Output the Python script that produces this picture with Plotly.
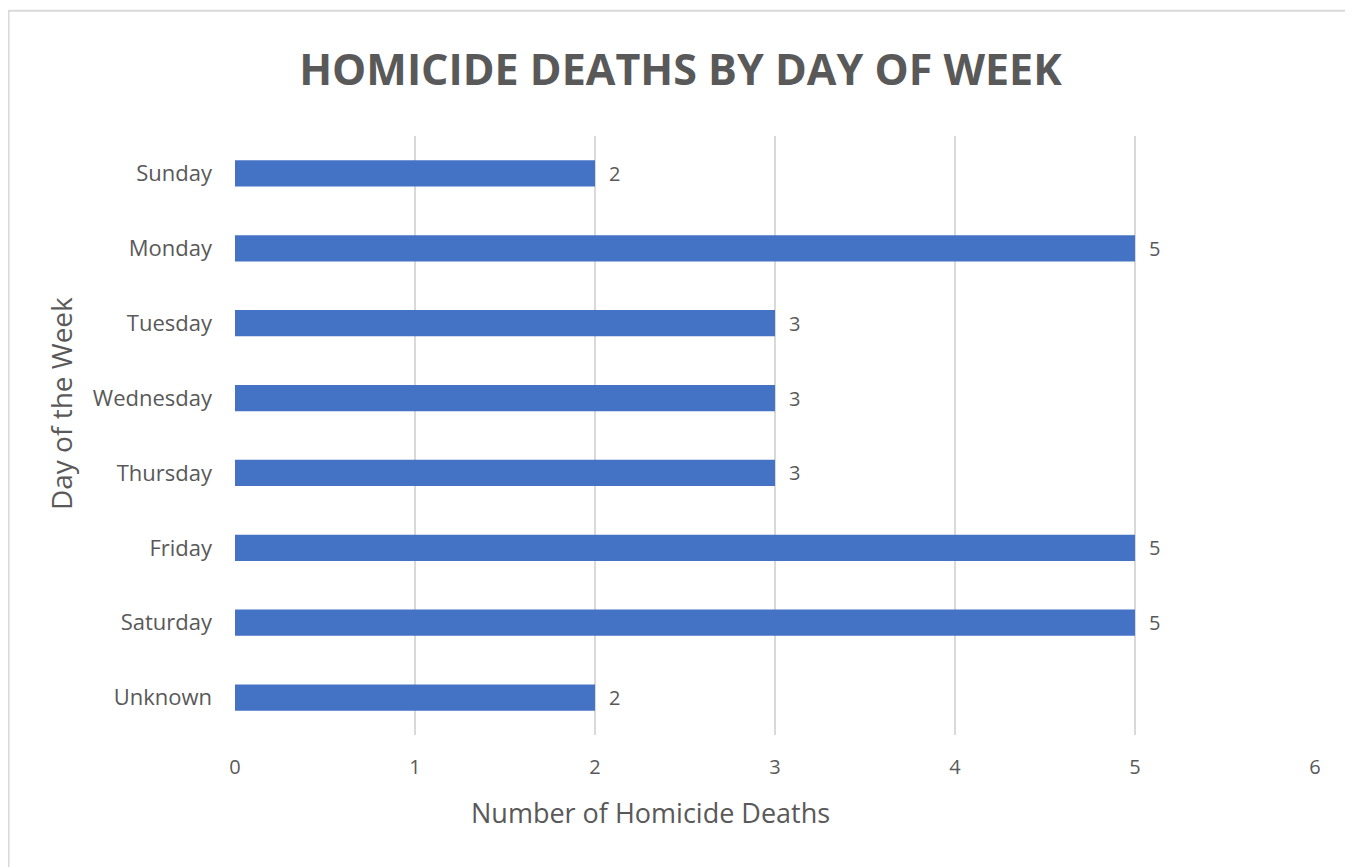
import plotly.graph_objects as go

days = ["Sunday", "Monday", "Tuesday", "Wednesday", "Thursday", "Friday", "Saturday", "Unknown"]
deaths = [2, 5, 3, 3, 3, 5, 5, 2]
x_ticks = [0, 1, 2, 3, 4, 5, 6]

GREY = "#595959"
FONT = "Open Sans"

fig = go.Figure(go.Bar(
    y=days, x=deaths, orientation="h",
    marker=dict(color="#4472C4", line=dict(width=0)),
    width=0.35, hoverinfo="skip",
))

for d, v in zip(days, deaths):
    fig.add_annotation(x=v, y=d, text=str(v), showarrow=False, xanchor="left",
                       xshift=12, font=dict(family=FONT, size=20, color=GREY))

# axis titles (positioned like the original, slightly off-center)
fig.add_annotation(text="Number of Homicide Deaths", xref="paper", yref="paper",
                   x=0.3843, y=-0.1292, xanchor="center", yanchor="middle", showarrow=False,
                   font=dict(family=FONT, size=27, color=GREY))
fig.add_annotation(text="Day of the Week", xref="paper", yref="paper", textangle=-90,
                   x=-0.1611, y=0.5525, xanchor="center", yanchor="middle", showarrow=False,
                   font=dict(family=FONT, size=28, color=GREY))

fig.update_layout(
    width=1345, height=859,
    margin=dict(l=227, r=38, t=127.5, b=131.5),
    paper_bgcolor="white", plot_bgcolor="white",
    showlegend=False,
    title=dict(text="<b>HOMICIDE DEATHS BY DAY OF WEEK</b>", x=0.5, xanchor="center",
               y=1 - 62/859, yanchor="middle",
               font=dict(family=FONT, size=43, color=GREY)),
    font=dict(family=FONT, color=GREY),
)
fig.update_xaxes(
    range=[0, 6], tickvals=x_ticks, showgrid=True, gridcolor="#d9d9d9", gridwidth=1.5,
    zeroline=False, showline=False, ticks="", ticklabelstandoff=18,
    tickfont=dict(family=FONT, size=20, color=GREY),
)
fig.update_yaxes(
    categoryorder="array", categoryarray=days, autorange="reversed",
    showgrid=False, zeroline=False, showline=False, ticks="", ticklabelstandoff=22,
    tickfont=dict(family=FONT, size=22, color=GREY),
)
fig.add_shape(type="rect", xref="paper", yref="paper",
              x0=-0.2097, x1=1.0333, y0=-0.26, y1=1.2092,
              line=dict(color="#d9d9d9", width=2), fillcolor="rgba(0,0,0,0)", layer="below")

fig.write_html("out.html")
